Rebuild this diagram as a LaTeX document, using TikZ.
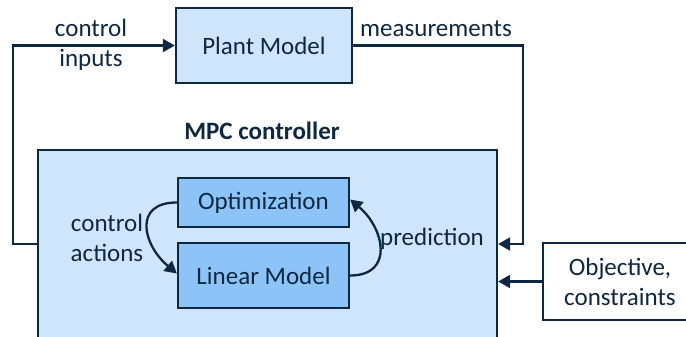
\documentclass[tikz,border=0pt]{standalone}
\usepackage{fontspec}
\setmainfont{Carlito}
\usetikzlibrary{arrows.meta}
\definecolor{ink}{HTML}{0E2841}
\definecolor{lightfill}{HTML}{CFE5FB}
\definecolor{midfill}{HTML}{8CC4F7}
\tikzset{
  box/.style={draw=ink, line width=2.3pt, rectangle, inner sep=0pt, text=ink},
  lbl/.style={text=ink, align=center, inner sep=0pt},
  arr/.style={draw=ink, line width=2.3pt, -{Triangle[length=12pt,width=13pt]}},
}
\begin{document}
\begin{tikzpicture}[x=1pt,y=-1pt, font=\fontsize{25}{30}\selectfont]
\useasboundingbox (0,0) rectangle (686,337);
\clip (0,0) rectangle (686,337);
\fill[white] (0,0) rectangle (686,337);
% MPC controller block
\node[box, fill=lightfill, minimum width=459pt, minimum height=200pt] (mpc) at (267.5,250) {};
\node[lbl, font=\fontsize{25}{30}\selectfont\bfseries] (mpct) at (262,131) {MPC controller};
% Plant
\node[box, fill=lightfill, minimum width=176pt, minimum height=75pt] (plant) at (264,45.5) {Plant Model};
% inner boxes
\node[box, fill=midfill, minimum width=171pt, minimum height=49pt] (opt) at (263.5,202.5) {Optimization};
\node[box, fill=midfill, minimum width=171pt, minimum height=65pt] (lin) at (263.5,275.5) {Linear Model};
% Objective
\node[box, fill=white, minimum width=152pt, minimum height=77pt, align=center] (obj) at (619,281.5) {};
\node[lbl] (objt) at (620,282) {Objective,\\constraints};
% labels
\node[lbl] (cit) at (91,45) {control\\inputs};
\node[lbl] (meas) at (436,29) {measurements};
\node[lbl] (cat) at (107,238) {control\\actions};
\node[lbl] (pred) at (432,239) {prediction};
% coordinates for connectors
\coordinate (cl) at (13,244);
\coordinate (mr) at (523,244);
% connectors
\draw[arr] (mpc.west |- cl) -- (cl) |- (plant.west);
\draw[arr] (plant.east) -| (mr) -- (mpc.east |- mr);
\draw[arr] (obj.west) -- (mpc.east |- obj.west);
\draw[arr] (opt.west) to[out=180,in=140,looseness=1.6] ([yshift=2pt]lin.west);
\draw[arr] (lin.east) to[out=0,in=-40,looseness=1.5] ([yshift=3pt]opt.east);
\end{tikzpicture}
\end{document}
